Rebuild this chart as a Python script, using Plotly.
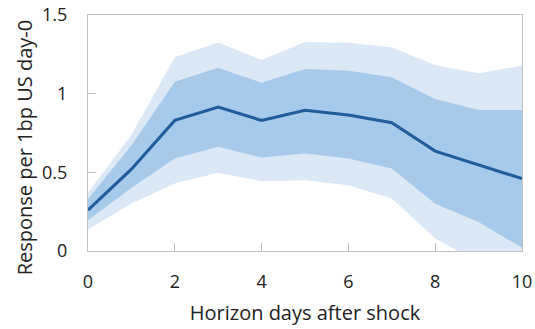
import plotly.graph_objects as go

horizon = [0, 1, 2, 3, 4, 5, 6, 7, 8, 9, 10]
response = [0.26, 0.52, 0.83, 0.915, 0.83, 0.895, 0.865, 0.815, 0.635, 0.55, 0.46]
inner_upper = [0.33, 0.67, 1.075, 1.165, 1.07, 1.157, 1.146, 1.104, 0.966, 0.896, 0.896]
inner_lower = [0.195, 0.40, 0.588, 0.662, 0.594, 0.62, 0.588, 0.524, 0.30, 0.185, 0.02]
outer_upper = [0.37, 0.737, 1.231, 1.326, 1.214, 1.328, 1.324, 1.295, 1.18, 1.129, 1.178]
outer_lower = [0.136, 0.302, 0.429, 0.497, 0.444, 0.45, 0.418, 0.333, 0.079, -0.07, -0.25]

x_ticks = [0, 2, 4, 6, 8, 10]
y_ticks = [0, 0.5, 1, 1.5]
y_tick_labels = ["0", "0.5", "1", "1.5"]
x_title = "Horizon days after shock"
y_title = "Response per 1bp US day-0"

outer_col = "#dbe8f6"
inner_col = "#a7c9ea"
line_col = "#1f5c99"

fig = go.Figure()
fig.add_trace(go.Scatter(x=horizon, y=outer_lower, mode="lines", line=dict(width=0),
                         hoverinfo="skip", showlegend=False))
fig.add_trace(go.Scatter(x=horizon, y=outer_upper, mode="lines", line=dict(width=0),
                         fill="tonexty", fillcolor=outer_col, hoverinfo="skip", showlegend=False))
fig.add_trace(go.Scatter(x=horizon, y=inner_lower, mode="lines", line=dict(width=0),
                         hoverinfo="skip", showlegend=False))
fig.add_trace(go.Scatter(x=horizon, y=inner_upper, mode="lines", line=dict(width=0),
                         fill="tonexty", fillcolor=inner_col, hoverinfo="skip", showlegend=False))
fig.add_trace(go.Scatter(x=horizon, y=response, mode="lines", line=dict(color=line_col, width=3),
                         showlegend=False))

axis_common = dict(showline=True, linecolor="#c0c0c0", linewidth=1, mirror=True,
                   showgrid=False, zeroline=False, ticks="inside", ticklen=8,
                   tickcolor="#c0c0c0", tickwidth=1, automargin=False,
                   tickfont=dict(family="Open Sans", size=18, color="#222222"))

fig.update_xaxes(range=[0, 10], tickvals=x_ticks, ticklabelstandoff=14,
                 title=dict(text=x_title,
                            font=dict(family="Open Sans", size=20, color="#222222"),
                            standoff=14),
                 **axis_common)
fig.update_yaxes(range=[0, 1.5], tickvals=y_ticks, ticktext=y_tick_labels,
                 ticklabelstandoff=16, **axis_common)

fig.add_annotation(text=y_title, textangle=-90, xref="paper", yref="paper",
                   x=-0.147, y=0.44, xanchor="center", yanchor="middle", showarrow=False,
                   font=dict(family="Open Sans", size=20, color="#222222"))

fig.update_layout(width=535, height=329, margin=dict(l=88, r=13, t=15, b=78),
                  plot_bgcolor="white", paper_bgcolor="white")

fig.write_html("out.html")
